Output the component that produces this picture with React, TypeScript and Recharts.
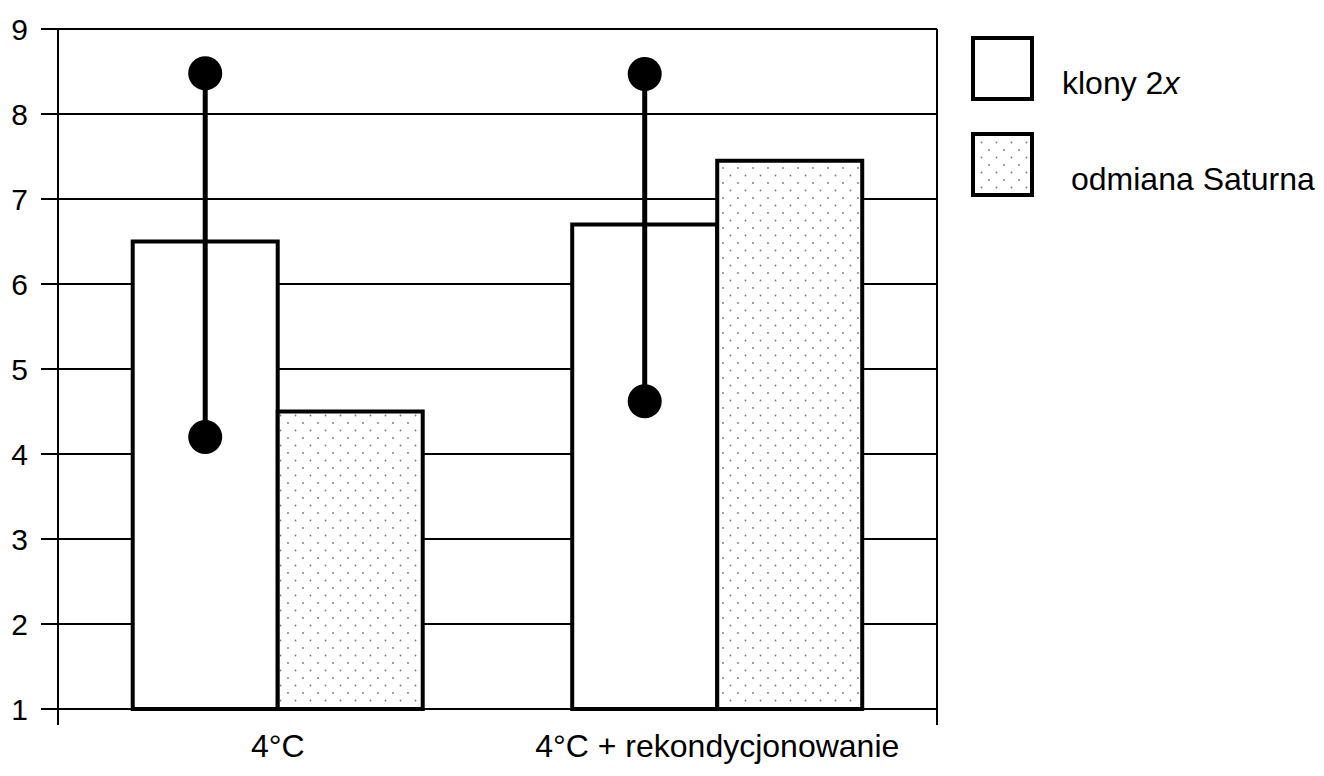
import React from "react";
import { BarChart, Bar, XAxis, YAxis, CartesianGrid, Legend } from "recharts";

const categories = ["4°C", "4°C + rekondycjonowanie"];
const klony = [6.5, 6.7];
const saturna = [4.5, 7.45];
const klonyMin = [4.2, 4.62];
const klonyMax = [8.48, 8.47];
const yTicks = [1, 2, 3, 4, 5, 6, 7, 8, 9];
const edgeTicks = [0, 1, 2];

const Y_MIN = 1;
const Y_MAX = 9;

const data = categories.map((name, i) => ({
  name,
  klony: klony[i],
  saturna: saturna[i],
  min: klonyMin[i],
  max: klonyMax[i],
}));

const font = "'Liberation Sans', Arial, sans-serif";

// white bar plus the min-max range line with end dots
const KlonyShape = (props: any) => {
  const { x, y, width, height, payload } = props;
  const base = y + height;
  const ppu = height / (payload.klony - Y_MIN);
  const yOf = (v: number) => base - (v - Y_MIN) * ppu;
  const cx = x + width / 2;
  return (
    <g>
      <rect x={x} y={y} width={width} height={height} fill="#fff" stroke="#000" strokeWidth={4} />
      <line x1={cx} x2={cx} y1={yOf(payload.max)} y2={yOf(payload.min)} stroke="#000" strokeWidth={5} />
      <circle cx={cx} cy={yOf(payload.max)} r={17} fill="#000" />
      <circle cx={cx} cy={yOf(payload.min)} r={17} fill="#000" />
    </g>
  );
};

const SaturnaShape = (props: any) => {
  const { x, y, width, height } = props;
  return <rect x={x} y={y} width={width} height={height} fill="url(#dots)" stroke="#000" strokeWidth={4} />;
};

const LegendBox = ({ dotted }: { dotted?: boolean }) => (
  <svg width={63} height={65} style={{ display: "block", flexShrink: 0 }}>
    <rect x={2} y={2} width={59} height={61} fill={dotted ? "url(#dotsLegend)" : "#fff"} stroke="#000" strokeWidth={4} />
  </svg>
);

const renderLegend = () => (
  <div style={{ fontFamily: font, fontSize: 32, color: "#000", whiteSpace: "nowrap" }}>
    <svg width={0} height={0} style={{ position: "absolute" }}>
      <defs>
        <pattern id="dotsLegend" width={15} height={15} patternUnits="userSpaceOnUse">
          <rect width={15} height={15} fill="#fff" />
          <circle cx={3} cy={3} r={0.9} fill="#777" />
          <circle cx={10.5} cy={10.5} r={0.9} fill="#777" />
        </pattern>
      </defs>
    </svg>
    <div style={{ display: "flex", alignItems: "center", marginLeft: 34, marginTop: 6 }}>
      <LegendBox />
      <span style={{ marginLeft: 28, marginTop: 30 }}>
        klony 2<i>x</i>
      </span>
    </div>
    <div style={{ display: "flex", alignItems: "center", marginLeft: 34, marginTop: 29 }}>
      <LegendBox dotted />
      <span style={{ marginLeft: 37, marginTop: 30 }}>odmiana Saturna</span>
    </div>
  </div>
);

export default function App() {
  return (
    <div style={{ margin: -8, background: "#fff", width: 1324, height: 776 }}>
      <BarChart
        width={1324}
        height={776}
        data={data}
        margin={{ top: 29, right: 27, left: 0, bottom: 0 }}
        barCategoryGap="17%"
        barGap={0}
      >
        <defs>
          <pattern id="dots" width={15} height={15} patternUnits="userSpaceOnUse">
            <rect width={15} height={15} fill="#fff" />
            <circle cx={3} cy={3} r={0.9} fill="#777" />
            <circle cx={10.5} cy={10.5} r={0.9} fill="#777" />
          </pattern>
        </defs>
        <CartesianGrid
          xAxisId="cat"
          stroke="#000"
          strokeWidth={2}
          verticalCoordinatesGenerator={({ offset }: any) => [offset.left + offset.width]}
        />
        {/* boundary ticks between categories, sits right under the plot */}
        <XAxis
          xAxisId={0}
          type="number"
          domain={[0, 2]}
          ticks={edgeTicks}
          allowDataOverflow
          tickFormatter={() => ""}
          height={16}
          tickSize={16}
          stroke="#000"
          strokeWidth={2}
        />
        <XAxis
          xAxisId="cat"
          dataKey="name"
          interval={0}
          axisLine={false}
          tickLine={false}
          tickSize={0}
          tickMargin={9}
          height={51}
          tick={{ fill: "#000", fontSize: 32, fontFamily: font }}
        />
        <YAxis
          domain={[Y_MIN, Y_MAX]}
          ticks={yTicks}
          interval={0}
          width={58}
          tickSize={17}
          tickMargin={13}
          stroke="#000"
          strokeWidth={2}
          tick={{ fill: "#000", fontSize: 30, fontFamily: font }}
        />
        <Legend
          layout="vertical"
          align="right"
          verticalAlign="top"
          content={renderLegend}
          wrapperStyle={{ width: 360 }}
        />
        <Bar xAxisId="cat" dataKey="klony" name="klony 2x" shape={KlonyShape} isAnimationActive={false} />
        <Bar xAxisId="cat" dataKey="saturna" name="odmiana Saturna" shape={SaturnaShape} isAnimationActive={false} />
      </BarChart>
    </div>
  );
}
